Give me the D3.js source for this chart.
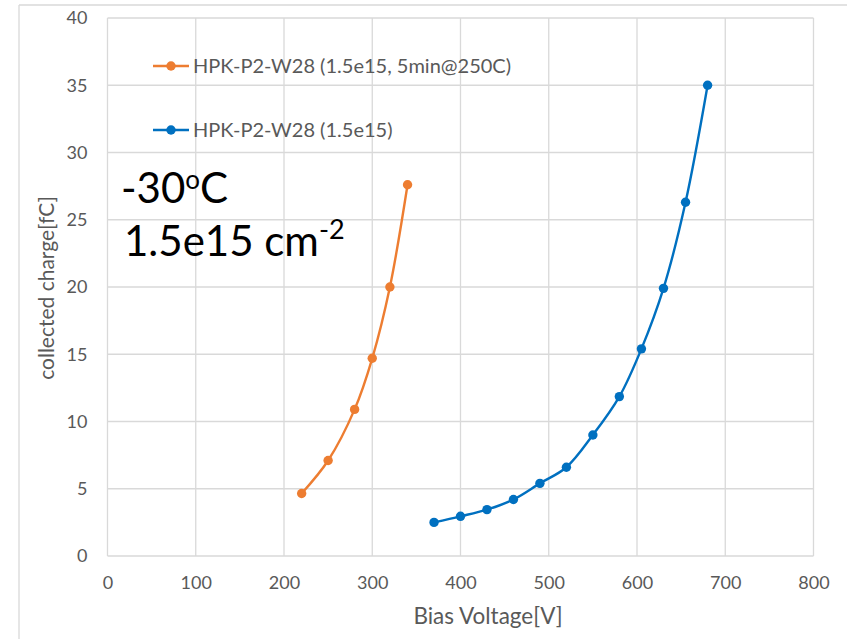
<!DOCTYPE html>
<html>
<head>
<meta charset="utf-8">
<script src="https://cdn.jsdelivr.net/npm/d3@7"></script>
<style>
  html, body { margin: 0; padding: 0; background: #fff; }
  svg { display: block; }
</style>
</head>
<body>
<svg id="chart" width="847" height="639"></svg>
<script>
// ---- data ----
const xTicks = [0, 100, 200, 300, 400, 500, 600, 700, 800];
const yTicks = [0, 5, 10, 15, 20, 25, 30, 35, 40];

const annealedName = "HPK-P2-W28 (1.5e15, 5min@250C)";
const annealedV = [220, 250, 280, 300, 320, 340];
const annealedQ = [4.65, 7.1, 10.9, 14.7, 20.0, 27.6];

const baseName = "HPK-P2-W28 (1.5e15)";
const baseV = [370, 400, 430, 460, 490, 520, 550, 580, 605, 630, 655, 680];
const baseQ = [2.5, 2.95, 3.45, 4.2, 5.4, 6.6, 9.0, 11.85, 15.4, 19.9, 26.3, 35.0];

const xTitle = "Bias Voltage[V]";
const yTitle = "collected charge[fC]";

// ---- drawing ----
const svg = d3.select("#chart");
const FONT = "Lato, 'Open Sans', sans-serif";
const GRID = "#D9D9D9";
const TXT = "#595959";

const x = d3.scaleLinear().domain([0, 800]).range([107.5, 813.5]);
const y = d3.scaleLinear().domain([0, 40]).range([556, 18]);

// chart area frame
svg.append("line").attr("x1", 19).attr("x2", 847).attr("y1", 5).attr("y2", 5)
  .attr("stroke", GRID).attr("stroke-width", 1.3);
svg.append("line").attr("x1", 19).attr("x2", 19).attr("y1", 5).attr("y2", 639)
  .attr("stroke", GRID).attr("stroke-width", 1.3);

// gridlines
const g = svg.append("g");
g.selectAll(".vg").data(xTicks).enter().append("line")
  .attr("x1", d => x(d)).attr("x2", d => x(d))
  .attr("y1", y(40)).attr("y2", y(0))
  .attr("stroke", GRID).attr("stroke-width", 1.3);
g.selectAll(".hg").data(yTicks).enter().append("line")
  .attr("x1", x(0)).attr("x2", x(800))
  .attr("y1", d => y(d)).attr("y2", d => y(d))
  .attr("stroke", GRID).attr("stroke-width", 1.3);

// axes (labels only, via d3 axis)
const xAxis = svg.append("g").attr("transform", `translate(0,${y(0)})`)
  .call(d3.axisBottom(x).tickValues(xTicks).tickSize(0).tickPadding(20));
const yAxis = svg.append("g").attr("transform", `translate(${x(0)},0)`)
  .call(d3.axisLeft(y).tickValues(yTicks).tickSize(0).tickPadding(20));
[xAxis, yAxis].forEach(a => {
  a.select(".domain").remove();
  a.selectAll("text").attr("fill", TXT).style("font-family", FONT).style("font-size", "18px");
});

// axis titles
svg.append("text").attr("x", 488).attr("y", 624).attr("text-anchor", "middle")
  .attr("fill", TXT).style("font-family", FONT).style("font-size", "22.5px").text(xTitle);
svg.append("text").attr("transform", `translate(54,${y(20) + 1}) rotate(-90)`)
  .attr("text-anchor", "middle")
  .attr("fill", TXT).style("font-family", FONT).style("font-size", "21px").text(yTitle);

// series
const series = [
  { name: annealedName, v: annealedV, q: annealedQ, color: "#ED7D31", ly: 66 },
  { name: baseName, v: baseV, q: baseQ, color: "#0070C0", ly: 130 }
];
const line = d3.line().x(d => x(d[0])).y(d => y(d[1])).curve(d3.curveCatmullRom.alpha(0.5));

series.forEach(s => {
  const pts = s.v.map((v, i) => [v, s.q[i]]);
  svg.append("path").datum(pts).attr("d", line)
    .attr("fill", "none").attr("stroke", s.color).attr("stroke-width", 2.4);
  svg.append("g").selectAll("circle").data(pts).enter().append("circle")
    .attr("cx", d => x(d[0])).attr("cy", d => y(d[1])).attr("r", 4.7)
    .attr("fill", s.color);
  // legend
  svg.append("line").attr("x1", 153).attr("x2", 189).attr("y1", s.ly).attr("y2", s.ly)
    .attr("stroke", s.color).attr("stroke-width", 2.4);
  svg.append("circle").attr("cx", 171).attr("cy", s.ly).attr("r", 4.7).attr("fill", s.color);
  svg.append("text").attr("x", 193).attr("y", s.ly + 7)
    .attr("fill", TXT).style("font-family", FONT).style("font-size", "20px").text(s.name);
});

// annotation
const ann = svg.append("g").style("font-family", FONT).attr("fill", "#000");
const t1 = ann.append("text").attr("x", 121).attr("y", 203).style("font-size", "42px");
t1.append("tspan").text("-30");
t1.append("tspan").attr("dy", -14).style("font-size", "26px").text("o");
t1.append("tspan").attr("dy", 14).text("C");
const t2 = ann.append("text").attr("x", 124).attr("y", 256).style("font-size", "42px");
t2.append("tspan").text("1.5e15 cm");
t2.append("tspan").attr("dy", -17).style("font-size", "27px").text("-2");
</script>
</body>
</html>
